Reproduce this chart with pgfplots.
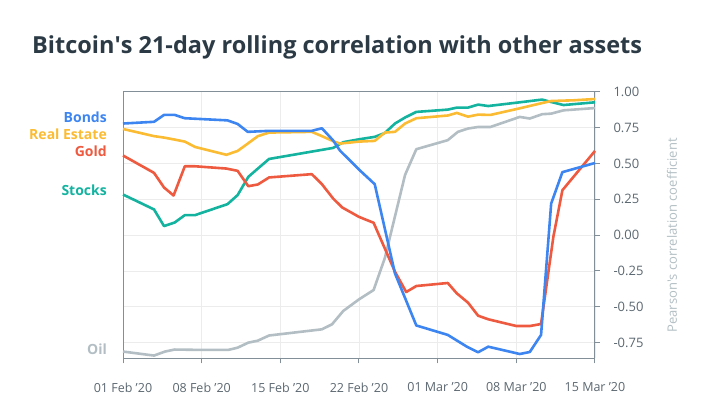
\documentclass[border=0pt]{standalone}
\usepackage{pgfplots}
\pgfplotsset{compat=1.18}
\usepackage{fontspec}
\setmainfont{Open Sans}
\definecolor{cBonds}{RGB}{61,133,240}
\definecolor{cRE}{RGB}{251,188,51}
\definecolor{cGold}{RGB}{238,90,64}
\definecolor{cStocks}{RGB}{19,179,160}
\definecolor{cOil}{RGB}{178,190,195}
\definecolor{cTitle}{RGB}{43,58,69}
\definecolor{cTick}{RGB}{91,103,112}
\definecolor{cAxis}{RGB}{130,142,152}
\definecolor{cGrid}{RGB}{236,236,236}
\begin{document}
\begin{tikzpicture}[x=1pt,y=1pt]
\path[use as bounding box] (0,0) rectangle (710,411);
\node[anchor=base west, text=cTitle, font=\fontsize{23.5}{27}\selectfont\bfseries, inner sep=0pt] at (32,357.7) {Bitcoin\textquotesingle s 21-day rolling correlation with other assets};
\begin{axis}[
  at={(123pt,52.7pt)}, anchor=south west,
  scale only axis, width=472pt, height=266.6pt,
  xmin=0, xmax=42, ymin=-0.859, ymax=1.0,
  clip=false,
  axis line style={cAxis, line width=1pt},
  xtick={0,7,14,21,28,35,42},
  xticklabels={01 Feb '20,08 Feb '20,15 Feb '20,22 Feb '20,01 Mar '20,08 Mar '20,15 Mar '20},
  ytick={-0.75,-0.5,-0.25,0,0.25,0.5,0.75,1},
  yticklabels={-0.75,-0.50,-0.25,0.00,0.25,0.50,0.75,1.00},
  xtick pos=bottom, ytick pos=right, yticklabel pos=right,
  tick align=outside, major tick length=5pt,
  tick style={cAxis, line width=1pt},
  grid=major, major grid style={cGrid, line width=0.9pt},
  xticklabel style={text=cTick, font=\fontsize{12.5}{14}\selectfont, yshift=-16pt},
  yticklabel style={text=cTick, font=\fontsize{13}{15}\selectfont, xshift=10pt},
  every axis plot/.append style={line width=2.6pt, line join=round},
]
\addplot[cOil] coordinates {(0,-0.812)(2.76,-0.84)(3.74,-0.812)(4.6,-0.798)(6.4,-0.80)(9.4,-0.80)(10.2,-0.785)(11.15,-0.75)(12.0,-0.736)(13,-0.70)(17.7,-0.657)(18.6,-0.622)(19.6,-0.529)(21,-0.448)(22.3,-0.383)(23.3,-0.16)(24.2,0.13)(25.1,0.42)(26.1,0.599)(28.9,0.662)(29.8,0.72)(30.7,0.743)(31.6,0.754)(32.7,0.754)(35.3,0.824)(36.2,0.813)(37.3,0.843)(38.1,0.847)(39.2,0.87)(42,0.886)};
\addplot[cStocks] coordinates {(0,0.283)(2.76,0.179)(3.65,0.063)(4.6,0.088)(5.5,0.139)(6.4,0.139)(9.3,0.216)(10.2,0.279)(11.15,0.406)(12.0,0.464)(13,0.531)(18.7,0.608)(19.6,0.648)(21,0.668)(22.4,0.685)(23.3,0.712)(24.2,0.778)(25.1,0.82)(26.1,0.859)(28.9,0.875)(29.7,0.889)(30.7,0.889)(31.6,0.91)(32.5,0.90)(35.3,0.926)(37.3,0.945)(38.1,0.928)(39.2,0.907)(42,0.926)};
\addplot[cRE] coordinates {(0,0.74)(2.76,0.69)(3.65,0.68)(4.6,0.666)(5.5,0.652)(6.4,0.615)(9.2,0.56)(10.2,0.587)(11.1,0.638)(12.0,0.69)(13,0.715)(16.8,0.72)(17.7,0.69)(18.7,0.655)(19.3,0.638)(21,0.652)(22.4,0.657)(23.3,0.715)(24.2,0.72)(25.1,0.778)(26.1,0.815)(28.9,0.834)(29.7,0.852)(30.7,0.826)(31.6,0.84)(32.7,0.838)(35.3,0.884)(37.3,0.921)(38.1,0.935)(40.1,0.94)(42,0.949)};
\addplot[cGold] coordinates {(0,0.555)(2.76,0.434)(3.65,0.332)(4.5,0.276)(5.5,0.48)(6.4,0.48)(9.2,0.464)(10.2,0.448)(11.15,0.341)(12.0,0.353)(13,0.402)(16.8,0.425)(17.7,0.355)(18.7,0.255)(19.5,0.193)(21,0.127)(22.3,0.086)(24.2,-0.255)(25.2,-0.397)(26.1,-0.355)(28.9,-0.334)(29.7,-0.406)(30.7,-0.471)(31.6,-0.562)(32.5,-0.587)(35.0,-0.634)(36.2,-0.634)(37.2,-0.62)(38.3,-0.01)(39.1,0.313)(42,0.587)};
\addplot[cBonds] coordinates {(0,0.778)(2.76,0.79)(3.65,0.838)(4.6,0.838)(5.5,0.815)(9.3,0.80)(10.2,0.775)(11.1,0.72)(13.0,0.727)(16.8,0.727)(17.7,0.745)(18.7,0.66)(19.3,0.59)(21.0,0.457)(22.4,0.355)(24.2,-0.267)(26.1,-0.63)(28.9,-0.696)(30.6,-0.778)(31.6,-0.817)(32.5,-0.778)(35.3,-0.829)(36.2,-0.815)(37.2,-0.696)(38.1,0.22)(39.1,0.439)(42,0.503)};
\begin{scope}[every node/.style={anchor=east, inner sep=0pt, font=\fontsize{14}{16}\selectfont\bfseries, xshift=-16pt}]
\node[text=cBonds] at (axis cs:0,0.82) {Bonds};
\node[text=cRE] at (axis cs:0,0.703) {Real Estate};
\node[text=cGold] at (axis cs:0,0.585) {Gold};
\node[text=cStocks] at (axis cs:0,0.313) {Stocks};
\node[text=cOil] at (axis cs:0,-0.794) {Oil};
\end{scope}
\node[rotate=90, text=cOil, font=\fontsize{13}{15}\selectfont, inner sep=0pt] at ([xshift=77pt,yshift=-10.5pt]rel axis cs:1,0.5) {Pearson\textquotesingle s correlation coefficient};
\end{axis}
\end{tikzpicture}
\end{document}
